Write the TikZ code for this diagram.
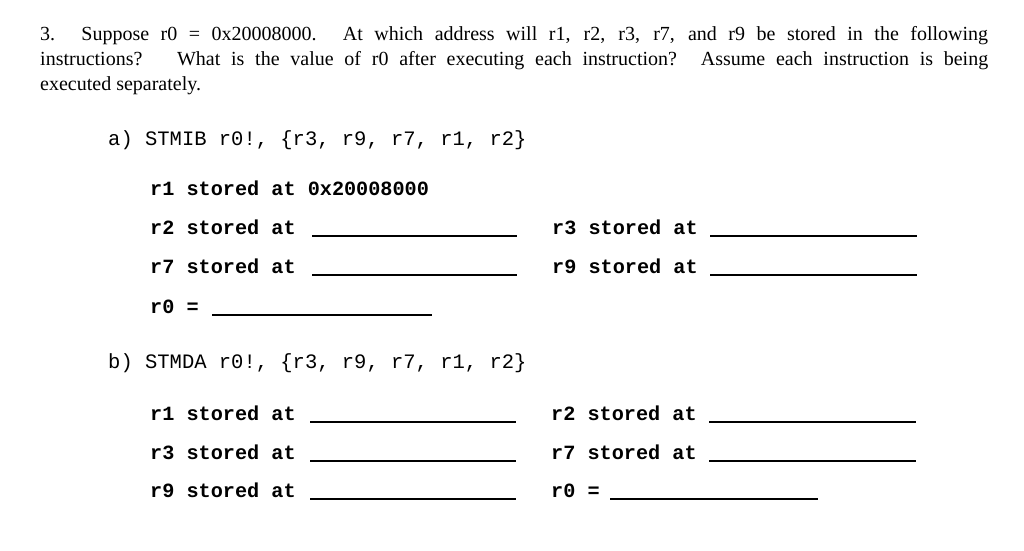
\documentclass[tikz,border=0pt]{standalone}
\usepackage{fontspec}
\setmainfont{Liberation Serif}
\newfontfamily\codefont{Liberation Mono}
\begin{document}
\begin{tikzpicture}[x=1pt,y=-1pt,
  hdr/.style={anchor=base west,inner sep=0pt,font=\fontsize{20}{25}\selectfont,text width=948pt,align=justify},
  code/.style={anchor=base west,inner sep=0pt,font=\codefont\fontsize{20.5}{24}\selectfont},
  bcode/.style={code,font=\codefont\bfseries\fontsize{20.2}{24}\selectfont},
  blank/.style={line width=1.1pt}]
\useasboundingbox[fill=white] (0,0) rectangle (1024,550);
\node[hdr] (h) at (40,40) {3. Suppose r0 = 0x20008000. At which address will r1, r2, r3, r7, and r9 be stored in the following\linebreak instructions? \ What is the value of r0 after executing each instruction? Assume each instruction is being\linebreak executed separately.};
\node[code] (a) at (108,145) {a) STMIB r0!, \{r3, r9, r7, r1, r2\}};
\node[bcode] (a1) at (150,195) {r1 stored at 0x20008000};
\node[bcode] (a2) at (150,234) {r2 stored at};
\node[bcode] (a3) at (552,234) {r3 stored at};
\node[bcode] (a7) at (150,273) {r7 stored at};
\node[bcode] (a9) at (552,273) {r9 stored at};
\node[bcode] (a0) at (150,313) {r0 =};
\coordinate (la2s) at (312,236); \coordinate (la2e) at (517,236);
\coordinate (la3s) at (710,236); \coordinate (la3e) at (917,236);
\coordinate (la7s) at (312,275); \coordinate (la7e) at (517,275);
\coordinate (la9s) at (710,275); \coordinate (la9e) at (917,275);
\coordinate (la0s) at (212,315); \coordinate (la0e) at (432,315);
\foreach \n in {a2,a3,a7,a9,a0} \draw[blank] (l\n s) -- (l\n e);
\node[code] (b) at (108,368) {b) STMDA r0!, \{r3, r9, r7, r1, r2\}};
\node[bcode] (b1) at (150,420) {r1 stored at};
\node[bcode] (b2) at (551,420) {r2 stored at};
\node[bcode] (b3) at (150,459) {r3 stored at};
\node[bcode] (b7) at (551,459) {r7 stored at};
\node[bcode] (b9) at (150,497) {r9 stored at};
\node[bcode] (b0) at (551,497) {r0 =};
\coordinate (lb1s) at (310,422); \coordinate (lb1e) at (516,422);
\coordinate (lb2s) at (709,422); \coordinate (lb2e) at (916,422);
\coordinate (lb3s) at (310,461); \coordinate (lb3e) at (516,461);
\coordinate (lb7s) at (709,461); \coordinate (lb7e) at (916,461);
\coordinate (lb9s) at (310,499); \coordinate (lb9e) at (516,499);
\coordinate (lb0s) at (610,499); \coordinate (lb0e) at (818,499);
\foreach \n in {b1,b2,b3,b7,b9,b0} \draw[blank] (l\n s) -- (l\n e);
\end{tikzpicture}
\end{document}
